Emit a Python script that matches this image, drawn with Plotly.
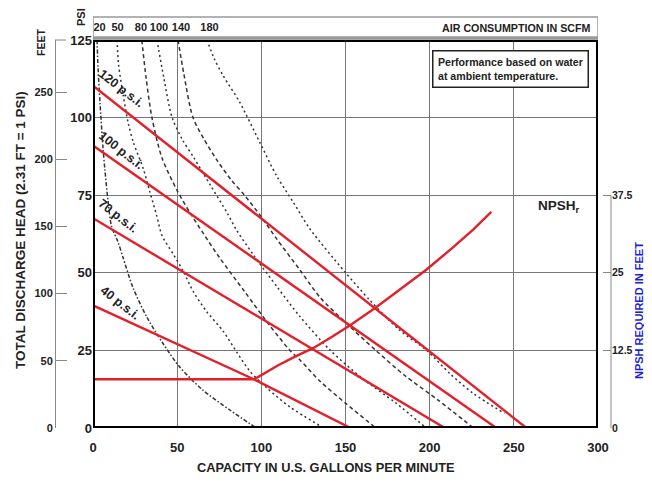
import plotly.graph_objects as go

# ---------------- data ----------------
# pump curves: capacity (GPM) vs discharge head (PSI)
gpm_120 = [0, 257.5]
psi_120 = [110.3, 0]
gpm_100 = [0, 239.6]
psi_100 = [91.0, 0]
gpm_70 = [0, 209.0]
psi_70 = [67.6, 0]
gpm_40 = [0, 95.2, 153.0]
psi_40 = [39.5, 15.8, 0]

# NPSH required (feet) vs capacity
npsh_gpm = [0, 95, 98, 101, 105, 110, 120, 131, 142, 153, 168, 183, 198, 213, 226, 236.6]
npsh_ft = [7.85, 7.85, 8.2, 8.7, 9.3, 10.1, 11.5, 12.9, 14.7, 16.6, 19.4, 22.4, 25.5, 28.9, 32.0, 34.8]

# air consumption curves (SCFM)
air_labels = ["20", "50", "80", "100", "140", "180"]
air_label_gpm = [3.9, 14.6, 28.5, 39.2, 52.3, 69.2]
air_a_gpm = [2.4, 3.0, 4.2, 5.9, 7.1, 8.9, 11.0, 14.8, 17.8, 23.7, 32.0, 41.5, 51.6, 65.3, 81.3, 97]
air_a_psi = [125, 116, 104.5, 90.4, 83.0, 73.3, 65, 60, 55, 45.3, 35.7, 27.3, 19.6, 12.2, 5.8, 0]
air_b_gpm = [14.3, 15.2, 18, 21, 24, 29.9, 33.8, 37.8, 41, 47.7, 53.6, 59.5, 67.4, 77.3, 85.3, 93.2, 103.1, 116.9, 137]
air_b_psi = [125, 117, 107, 98, 92, 83.5, 76, 68.5, 62, 56, 50.5, 44, 37.6, 31.2, 24.5, 18.3, 13, 6.8, 0]
air_c_gpm = [29, 31.5, 35, 41, 50, 58, 65.5, 75, 90, 105, 117, 122.8, 135, 150, 168]
air_c_psi = [125, 113, 100, 87, 76.5, 69, 62.7, 55, 44, 33, 25, 22, 15, 8, 0]
air_d_gpm = [38, 42, 47, 53, 60, 70, 80, 85, 95, 110, 122.8, 141, 160, 180, 198]
air_d_psi = [125, 113, 100, 93, 87, 78, 69, 64, 56, 45, 36, 25, 16, 8, 0]
air_e_gpm = [50.5, 54, 59.4, 66, 74, 82, 90, 100, 109, 122.8, 135, 150, 168, 185, 205, 226]
air_e_psi = [125, 114, 100, 93, 86, 80, 75, 68, 61, 51, 42, 34, 25, 17, 9, 0]
air_f_gpm = [67.7, 72, 77.3, 87.2, 99.1, 109, 118.9, 128.8, 149.6, 164.4, 182.2, 198, 211.9, 225.7, 244.5]
air_f_psi = [125, 119, 113.5, 104.9, 92, 81.3, 72.8, 64.2, 50.3, 41.2, 31.5, 25.1, 17.6, 11.2, 4.7]

x_ticks = [0, 50, 100, 150, 200, 250, 300]
psi_ticks = [0, 25, 50, 75, 100, 125]
feet_ticks = [0, 50, 100, 150, 200, 250]
npsh_ticks = [0, 12.5, 25, 37.5]
npsh_text = ["0", "12.5", "25", "37.5"]

FONT = "Liberation Sans, Arial, sans-serif"
RED = "#e3202a"
DASH = "#333333"
DASHED = "4px,3px"
DOTTED = "2px,3px"
DASHDOT = "4px,2px,1.5px,2px"

fig = go.Figure()

air_sets = [
    (air_a_gpm, air_a_psi, DASHDOT),
    (air_b_gpm, air_b_psi, DOTTED),
    (air_c_gpm, air_c_psi, DASHED),
    (air_d_gpm, air_d_psi, DOTTED),
    (air_e_gpm, air_e_psi, DASHED),
    (air_f_gpm, air_f_psi, DOTTED),
]
for gx, gy, d in air_sets:
    fig.add_trace(go.Scatter(x=gx, y=gy, mode="lines",
                             line=dict(color=DASH, width=1.5, dash=d, shape="spline", smoothing=0.8),
                             showlegend=False, hoverinfo="skip"))

for gx, gy in [(gpm_120, psi_120), (gpm_100, psi_100), (gpm_70, psi_70), (gpm_40, psi_40)]:
    fig.add_trace(go.Scatter(x=gx, y=gy, mode="lines", line=dict(color=RED, width=2.4),
                             showlegend=False, hoverinfo="skip"))

fig.add_trace(go.Scatter(x=npsh_gpm, y=npsh_ft, mode="lines", yaxis="y2",
                         line=dict(color=RED, width=2.4),
                         showlegend=False, hoverinfo="skip"))

# invisible traces to activate auxiliary axes
fig.add_trace(go.Scatter(x=[0], y=[0], yaxis="y3", mode="markers", marker=dict(opacity=0),
                         showlegend=False, hoverinfo="skip"))
fig.add_trace(go.Scatter(x=[0], y=[0], xaxis="x2", mode="markers", marker=dict(opacity=0),
                         showlegend=False, hoverinfo="skip"))

tickfont = dict(family=FONT, size=13, color="#222", weight="bold")

# the page body adds an 8px offset, so the figure is sized/shifted to compensate
fig.update_layout(
    width=644, height=474,
    margin=dict(l=47, r=41, t=32, b=54),
    paper_bgcolor="white", plot_bgcolor="white",
    font=dict(family=FONT, color="#222"),
    xaxis=dict(domain=[0.06835, 0.97662], range=[0, 300], tickvals=x_ticks, automargin=False,
               showgrid=True, gridcolor="#777", gridwidth=1, zeroline=False,
               showline=False, ticks="", tickfont=tickfont, ticklabelstandoff=10),
    xaxis2=dict(overlaying="x", side="top", range=[0, 300], tickvals=air_label_gpm, ticktext=air_labels,
                automargin=False, tickangle=0,
                showgrid=False, zeroline=False, showline=False, ticks="",
                tickfont=dict(family=FONT, size=11, color="#222", weight="bold"), ticklabelstandoff=6),
    yaxis=dict(range=[0, 125], tickvals=psi_ticks, showgrid=True, gridcolor="#777", gridwidth=1,
               automargin=False,
               zeroline=False, showline=False, ticks="", tickfont=tickfont),
    yaxis2=dict(overlaying="y", anchor="free", position=1, side="right", range=[0, 62.5],
                automargin=False,
                tickvals=npsh_ticks, ticktext=npsh_text, showgrid=False, zeroline=False, showline=False,
                ticks="inside", ticklen=8, tickcolor="#888",
                tickfont=dict(family=FONT, size=10.5, color="#222", weight="bold")),
    yaxis3=dict(overlaying="y", anchor="free", position=0, side="left", range=[0, 288.75],
                automargin=False,
                tickvals=feet_ticks, showgrid=False, zeroline=False,
                showline=True, linecolor="#888", linewidth=1,
                ticks="inside", ticklen=11, tickcolor="#888",
                tickfont=dict(family=FONT, size=11, color="#222", weight="bold")),
)

shapes = [
    # air consumption header strip
    dict(type="rect", xref="x", yref="paper", x0=0, x1=300, y0=1.0, y1=1.059,
         line=dict(color="#999", width=1.5), fillcolor="rgba(0,0,0,0)"),
    dict(type="line", xref="x", yref="paper", x0=0, x1=300, y0=1.006, y1=1.006,
         line=dict(color="#999", width=3)),
    # top tick of feet axis
    dict(type="line", xref="paper", yref="paper", x0=0, x1=0.02, y0=1, y1=1,
         line=dict(color="#888", width=1)),
    # NPSH axis line
    dict(type="line", xref="paper", yref="y2", x0=1, x1=1, y0=0, y1=37.5,
         line=dict(color="#888", width=1)),
    # plot frame
    dict(type="rect", xref="x", yref="y", x0=0, x1=300, y0=0, y1=125,
         line=dict(color="black", width=4), layer="above"),
]
fig.update_layout(shapes=shapes)

ann = []
def A(**k):
    k.setdefault("xanchor", "center")
    k.setdefault("yanchor", "middle")
    k.setdefault("showarrow", False)
    ann.append(k)

lab = dict(family=FONT, size=12.5, color="#222", weight="bold")
for txt, xx, yy in [("120 p.s.i.", 17.2, 109.3), ("100 p.s.i.", 17.2, 89.4),
                    ("70 p.s.i.", 14.8, 68.2), ("40 p.s.i.", 16.0, 40.2)]:
    A(text=txt, x=xx, y=yy, xref="x", yref="y", textangle=38, font=lab)

A(text="TOTAL DISCHARGE HEAD (2.31 FT = 1 PSI)", x=-0.063, y=0.51, xref="paper", yref="paper",
  textangle=-90, font=dict(family=FONT, size=13.5, color="#222", weight="bold"))
A(text="CAPACITY IN U.S. GALLONS PER MINUTE", x=0.4874, y=-0.103, xref="paper", yref="paper",
  font=dict(family=FONT, size=12.8, color="#222", weight="bold"))
A(text="NPSH REQUIRED IN FEET", x=1.0504, y=0.3015, xref="paper", yref="paper", textangle=-90,
  font=dict(family=FONT, size=11, color="#1f1fd6", weight="bold"))
A(text="FEET", x=-0.0252, y=0.9948, xref="paper", yref="paper", textangle=-90,
  font=dict(family=FONT, size=10.5, color="#222", weight="bold"))
A(text="PSI", x=0.0468, y=1.0593, xref="paper", yref="paper", textangle=-90,
  font=dict(family=FONT, size=11, color="#222", weight="bold"))
A(text="AIR CONSUMPTION IN SCFM", x=0.9676, y=1.031, xref="paper", yref="paper", xanchor="right",
  font=dict(family=FONT, size=10.7, color="#222", weight="bold"))
A(text="Performance based on water<br>at ambient temperature.", x=0.678, y=0.974, xref="paper",
  yref="paper", xanchor="left", yanchor="top", align="left",
  bordercolor="#222", borderwidth=1.5, borderpad=4.5, bgcolor="white",
  font=dict(family=FONT, size=10.6, color="#222", weight="bold"))
A(text="NPSH<sub>r</sub>", x=0.9065, y=0.5696, xref="paper", yref="paper",
  font=dict(family=FONT, size=13.5, color="#222", weight="bold"))
fig.update_layout(annotations=ann)

fig.write_html("out.html")
